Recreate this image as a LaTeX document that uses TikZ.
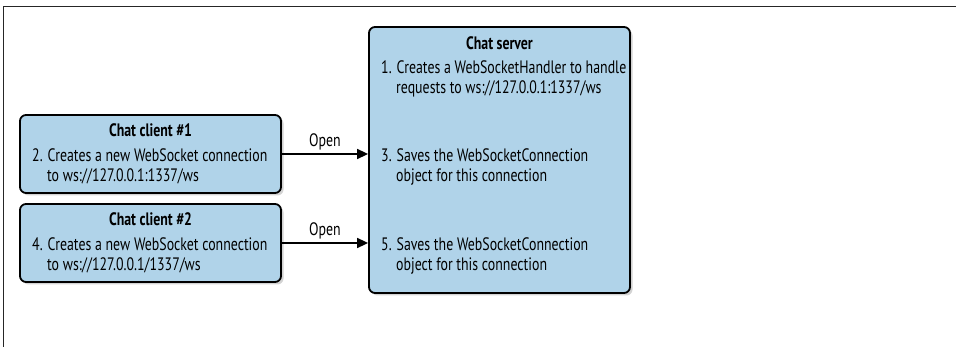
\documentclass[tikz,border=0pt]{standalone}
\usepackage{fontspec}
\setmainfont{PT Sans}[FakeStretch=0.77]
\usetikzlibrary{arrows.meta,positioning,shadows}
\definecolor{boxblue}{RGB}{176,211,233}
\tikzset{
  chatbox/.style={draw=black, line width=1.8pt, rounded corners=6pt, fill=boxblue,
    drop shadow={shadow xshift=2.5pt, shadow yshift=-2.5pt, opacity=0.35, fill=gray}},
  boxtext/.style={anchor=base west, inner sep=0pt, font=\fontsize{18}{20}\selectfont},
  boxtitle/.style={anchor=base, inner sep=0pt, font=\fontsize{18}{20}\selectfont\bfseries},
  openlabel/.style={anchor=base, inner sep=0pt, yshift=7pt, font=\fontsize{18}{20}\selectfont},
  openarrow/.style={-{Triangle[length=11pt,width=10pt]}, line width=1.6pt}
}
\begin{document}
\begin{tikzpicture}[x=1pt,y=-1pt]
        \useasboundingbox (0,0) rectangle (956,347);
        % frame
        \draw[line width=1pt, black!85] (3,347) -- (3,7) -- (956,7);
        % boxes
        \node[chatbox, minimum width=261pt, minimum height=78pt] (C1) at (150.5,154) {};
        \node[chatbox, minimum width=261pt, minimum height=78pt] (C2) at (150.5,243) {};
        \node[chatbox, minimum width=261pt, minimum height=266pt] (S) at (499.5,160) {};
        % client 1
        \node[boxtitle] (C1t) at (150.5,137) {Chat client \#1};
        \node[boxtext] (C1a) at (32,162) {2. Creates a new WebSocket connection};
        \node[boxtext] (C1b) at (47,182) {to ws://127.0.0.1:1337/ws};
        % client 2
        \node[boxtitle] (C2t) at (150.5,226) {Chat client \#2};
        \node[boxtext] (C2a) at (32,251) {4. Creates a new WebSocket connection};
        \node[boxtext] (C2b) at (47,271) {to ws://127.0.0.1/1337/ws};
        % server
        \node[boxtitle] (St) at (499.5,50) {Chat server};
        \node[boxtext] (S1a) at (381,74) {1. Creates a WebSocketHandler to handle};
        \node[boxtext] (S1b) at (396,94) {requests to ws://127.0.0.1:1337/ws};
        \node[boxtext] (S3a) at (381,162) {3. Saves the WebSocketConnection};
        \node[boxtext] (S3b) at (396,182) {object for this connection};
        \node[boxtext] (S5a) at (381,251) {5. Saves the WebSocketConnection};
        \node[boxtext] (S5b) at (396,271) {object for this connection};
        % connectors
        \draw[openarrow] (C1.east) -- (C1.east -| S.west) node[midway, openlabel] {Open};
        \draw[openarrow] (C2.east) -- (C2.east -| S.west) node[midway, openlabel] {Open};
    \end{tikzpicture}
\end{document}
